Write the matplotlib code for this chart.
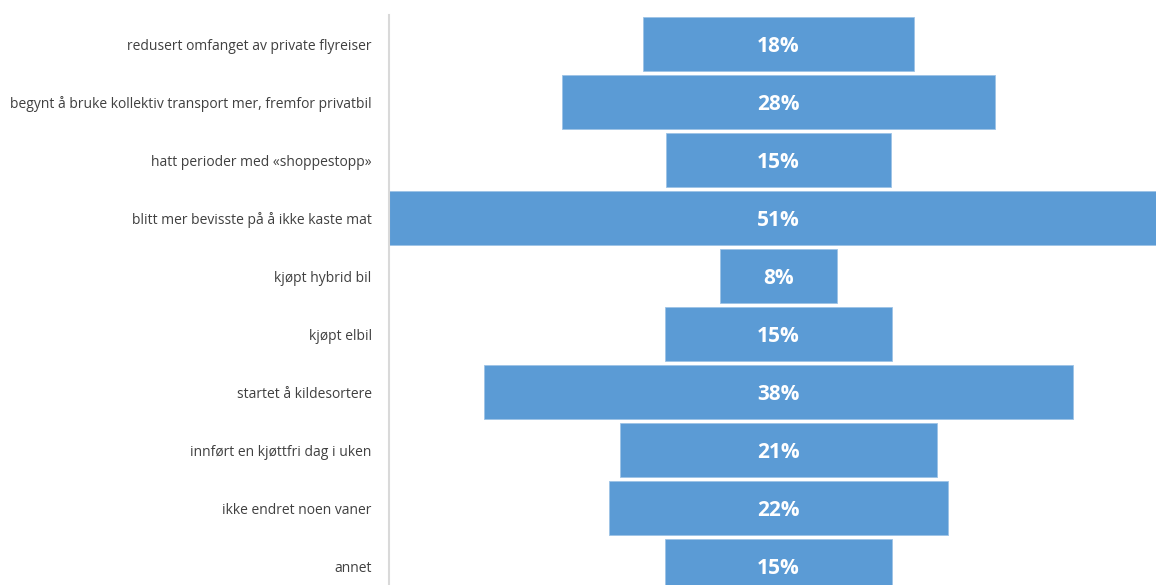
import matplotlib.pyplot as plt

# data (share of respondents, %)
categories = [
    'redusert omfanget av private flyreiser',
    'begynt å bruke kollektiv transport mer, fremfor privatbil',
    'hatt perioder med «shoppestopp»',
    'blitt mer bevisste på å ikke kaste mat',
    'kjøpt hybrid bil',
    'kjøpt elbil',
    'startet å kildesortere',
    'innført en kjøttfri dag i uken',
    'ikke endret noen vaner',
    'annet',
]
values = [17.6, 28.1, 14.6, 50.6, 7.6, 14.7, 38.2, 20.6, 22.0, 14.7]

bar_color = '#5B9BD5'
label_color = '#404040'

fig = plt.figure(figsize=(11.56, 5.85), dpi=100)
ax = fig.add_axes([389 / 1156, -10 / 585, 1 - 389 / 1156, 580 / 585])

ypos = list(range(len(categories)))
lefts = [-v / 2 for v in values]
ax.barh(ypos, values, left=lefts, height=0.93, color=bar_color,
        edgecolor='#9DC3E6', linewidth=0.6)

for y, v in zip(ypos, values):
    ax.text(0, y + 0.05, '%d%%' % round(v), ha='center', va='center',
            color='white', fontsize=15, fontweight='bold',
            family='Open Sans')

ax.set_xlim(-(778.5 - 389) / 15.4, (1156 - 778.5) / 15.4)
ax.set_ylim(len(categories) - 0.5, -0.5)

ax.set_yticks(ypos)
ax.set_yticklabels(categories, family='Open Sans', fontsize=10.0,
                   color=label_color)
ax.tick_params(axis='y', length=0, pad=12.5)
ax.set_xticks([])

for s in ['top', 'right', 'bottom']:
    ax.spines[s].set_visible(False)
ax.spines['left'].set_color('#D9D9D9')
ax.spines['left'].set_linewidth(1.5)

fig.savefig('out.png', dpi=100)
